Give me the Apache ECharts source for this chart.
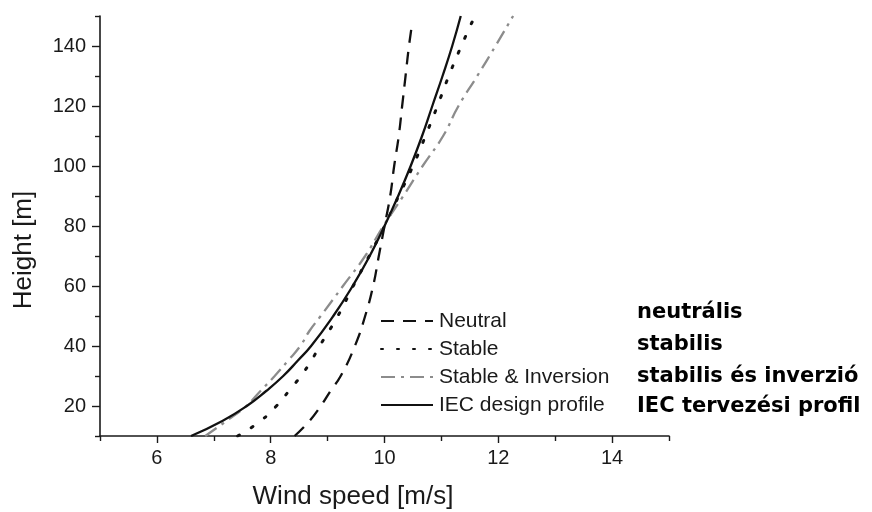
<!DOCTYPE html>
<html>
<head>
<meta charset="utf-8">
<script src="https://cdn.jsdelivr.net/npm/echarts@6/dist/echarts.min.js"></script>
<style>html,body{margin:0;padding:0;background:#fff;}#c{width:872px;height:512px;}</style>
</head>
<body>
<div id="c"></div>
<script>
// Heights [m]
const heightsNeutral = [10, 15, 20, 25, 30, 40, 50, 60, 70, 80, 90, 100, 110, 120, 130, 140, 148];
const speedNeutral   = [8.42, 8.68, 8.88, 9.05, 9.23, 9.48, 9.66, 9.80, 9.90, 10.0, 10.10, 10.17, 10.25, 10.31, 10.37, 10.43, 10.49];

const heightsStable = [10, 15, 20, 25, 30, 35, 40, 50, 60, 70, 80, 90, 100, 110, 120, 130, 140, 148];
const speedStable   = [7.42, 7.82, 8.10, 8.32, 8.53, 8.71, 8.86, 9.18, 9.45, 9.73, 10.0, 10.25, 10.5, 10.72, 10.93, 11.13, 11.35, 11.54];

const heightsInversion = [10, 15, 20, 25, 30, 35, 40, 45, 50, 60, 70, 80, 90, 100, 110, 120, 130, 140, 150];
const speedInversion   = [6.85, 7.22, 7.57, 7.82, 8.07, 8.30, 8.52, 8.68, 8.88, 9.27, 9.66, 9.98, 10.33, 10.67, 11.03, 11.30, 11.63, 11.95, 12.26];

const heightsIEC = [10, 15, 20, 25, 30, 35, 40, 50, 60, 70, 80, 90, 100, 110, 120, 130, 140, 150];
const speedIEC   = [6.60, 7.15, 7.58, 7.92, 8.22, 8.47, 8.71, 9.10, 9.44, 9.74, 10.0, 10.24, 10.46, 10.66, 10.84, 11.02, 11.19, 11.34];

const seriesNames = ['Neutral', 'Stable', 'Stable & Inversion', 'IEC design profile'];
const hungarianLabels = ['neutrális', 'stabilis', 'stabilis és inverzió', 'IEC tervezési profil'];

const xMajorTicks = [6, 8, 10, 12, 14];
const xMinorTicks = [5, 7, 9, 11, 13, 15];
const yMajorTicks = [20, 40, 60, 80, 100, 120, 140];
const yMinorTicks = [10, 30, 50, 70, 90, 110, 130, 150];

const xTitle = 'Wind speed [m/s]';
const yTitle = 'Height [m]';

function pairs(speeds, heights) { return speeds.map((v, i) => [v, heights[i]]); }

const chart = echarts.init(document.getElementById('c'), null, {renderer: 'canvas'});
const ink = '#1a1a1a';
const font = '"Liberation Sans", Arial, sans-serif';

const grid = {left: 100, right: 203, top: 16, bottom: 76};

const baseX = {type: 'value', min: 5, max: 15, gridIndex: 0};
const baseY = {type: 'value', min: 10, max: 150, gridIndex: 0};

const option = {
  animation: false,
  backgroundColor: '#fff',
  grid: grid,
  xAxis: [
    Object.assign({}, baseX, {
      position: 'bottom',
      axisLine: {show: true, onZero: false, lineStyle: {color: ink, width: 1.6}},
      axisTick: {show: true, inside: false, length: 7, lineStyle: {color: ink, width: 1.4}, customValues: xMajorTicks},
      axisLabel: {show: true, color: ink, fontSize: 20, fontFamily: font, margin: 12, customValues: xMajorTicks},
      splitLine: {show: false}
    }),
    Object.assign({}, baseX, {
      position: 'bottom',
      axisLine: {show: false, onZero: false},
      axisTick: {show: true, inside: false, length: 5, lineStyle: {color: ink, width: 1.4}, customValues: xMinorTicks},
      axisLabel: {show: false},
      splitLine: {show: false}
    })
  ],
  yAxis: [
    Object.assign({}, baseY, {
      position: 'left',
      axisLine: {show: true, onZero: false, lineStyle: {color: ink, width: 1.6}},
      axisTick: {show: true, inside: false, length: 8, lineStyle: {color: ink, width: 1.4}, customValues: yMajorTicks},
      axisLabel: {show: true, color: ink, fontSize: 20, fontFamily: font, margin: 14, customValues: yMajorTicks},
      splitLine: {show: false}
    }),
    Object.assign({}, baseY, {
      position: 'left',
      axisLine: {show: false, onZero: false},
      axisTick: {show: true, inside: false, length: 5, lineStyle: {color: ink, width: 1.4}, customValues: yMinorTicks},
      axisLabel: {show: false},
      splitLine: {show: false}
    })
  ],
  legend: {
    orient: 'vertical',
    left: 380,
    top: 310,
    padding: 0,
    itemWidth: 52,
    itemHeight: 14,
    itemGap: 6,
    itemStyle: {opacity: 0},
    textStyle: {color: ink, fontSize: 21, fontFamily: font, lineHeight: 22, padding: [0, 0, 0, 1]},
    data: seriesNames
  },
  series: [
    {
      name: seriesNames[0], type: 'line', data: pairs(speedNeutral, heightsNeutral), smooth: true,
      symbol: 'none', xAxisIndex: 0, yAxisIndex: 0,
      lineStyle: {color: '#111', width: 2.3, type: [13, 9]}, itemStyle: {color: '#111'}
    },
    {
      name: seriesNames[1], type: 'line', data: pairs(speedStable, heightsStable), smooth: true,
      symbol: 'none', xAxisIndex: 0, yAxisIndex: 0,
      lineStyle: {color: '#111', width: 3, type: [2, 14], cap: 'round'}, itemStyle: {color: '#111'}
    },
    {
      name: seriesNames[2], type: 'line', data: pairs(speedInversion, heightsInversion), smooth: true,
      symbol: 'none', xAxisIndex: 0, yAxisIndex: 0,
      lineStyle: {color: '#8c8c8c', width: 2.3, type: [14, 6, 3, 6]}, itemStyle: {color: '#8c8c8c'}
    },
    {
      name: seriesNames[3], type: 'line', data: pairs(speedIEC, heightsIEC), smooth: true,
      symbol: 'none', xAxisIndex: 0, yAxisIndex: 0,
      lineStyle: {color: '#111', width: 2.3, type: 'solid'}, itemStyle: {color: '#111'}
    }
  ]
};

// axis titles and Hungarian labels as text graphics
option.graphic = [
  {type: 'text', x: 24, y: 250, rotation: Math.PI / 2,
   style: {text: yTitle, fill: ink, font: '26px ' + font, align: 'center', verticalAlign: 'middle'}},
  {type: 'text', x: 353, y: 497,
   style: {text: xTitle, fill: ink, font: '26px ' + font, align: 'center', verticalAlign: 'middle'}}
];
const hunY = [313, 345, 377, 407];
hungarianLabels.forEach((t, i) => {
  option.graphic.push({type: 'text', x: 637, y: hunY[i],
    style: {text: t, fill: '#000', font: 'bold 21px "DejaVu Sans", sans-serif', align: 'left', verticalAlign: 'middle'}});
});

chart.setOption(option);
</script>
</body>
</html>
